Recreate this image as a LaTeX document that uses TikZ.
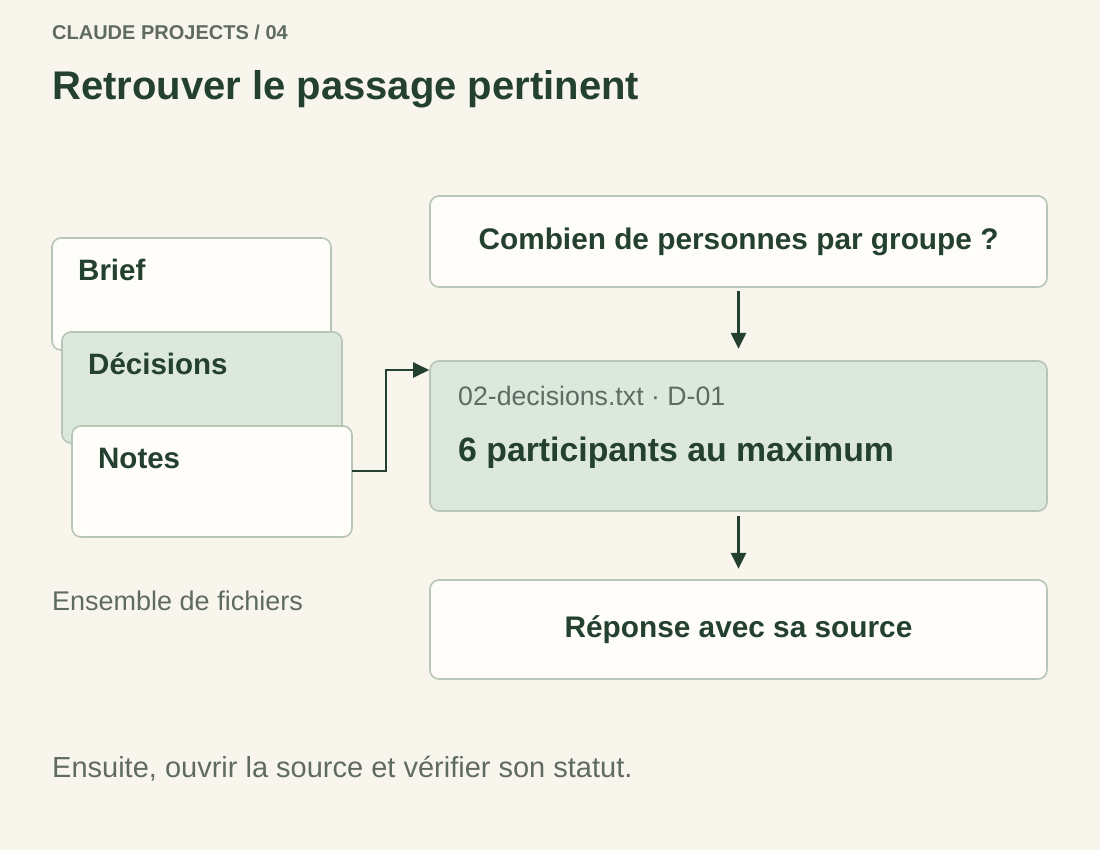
\documentclass[tikz,border=0pt]{standalone}
\usepackage{fontspec}
\setmainfont{Liberation Sans}
\usetikzlibrary{arrows.meta,positioning}
\definecolor{bgc}{HTML}{F8F6EC}
\definecolor{ink}{HTML}{24402F}
\definecolor{edge}{HTML}{B7C6B6}
\definecolor{leaf}{HTML}{DDE8DD}
\definecolor{paper}{HTML}{FEFDF9}
\definecolor{mute}{HTML}{5F6B62}
\tikzset{
  card/.style={draw=edge,line width=1.6pt,rounded corners=9pt},
  lbl/.style={anchor=base west,inner sep=0pt,text=ink,font=\fontsize{29.5}{34}\selectfont\bfseries},
  flow/.style={draw=ink,line width=2.6pt,-{Triangle[length=16pt,width=15pt]}}
}
\begin{document}
\begin{tikzpicture}[x=1pt,y=-1pt]
  \fill[bgc] (0,0) rectangle (1100,850);
  \useasboundingbox (0,0) rectangle (1100,850);
  % header
  \node[anchor=base west,inner sep=0pt,text=mute,font=\fontsize{20}{23}\selectfont\bfseries] (kicker) at (52,40) {CLAUDE PROJECTS / 04};
  \node[anchor=base west,inner sep=0pt,text=ink,font=\fontsize{40}{45}\selectfont\bfseries] (title) at (52,100) {Retrouver le passage pertinent};
  % file stack
  \draw[card,fill=paper] (52,238) rectangle (331,350);
  \node[lbl] (brief) at (78,280) {Brief};
  \draw[card,fill=leaf] (62,332) rectangle (342,443);
  \node[lbl] (decisions) at (88,374) {Décisions};
  \draw[card,fill=paper] (72,426) rectangle (352,537);
  \node[lbl] (notes) at (98,468) {Notes};
  \coordinate (notesout) at (352,471);
  \node[anchor=base west,inner sep=0pt,text=mute,font=\fontsize{27}{31}\selectfont] (setlbl) at (52,610) {Ensemble de fichiers};
  % flow
  \node[card,fill=paper,minimum width=617pt,minimum height=91pt,text=ink,font=\fontsize{29.8}{34}\selectfont\bfseries] (question) at (738.5,241.5) {Combien de personnes par groupe ?};
  \node[card,fill=leaf,minimum width=617pt,minimum height=150pt] (match) at (738.5,436) {};
  \node[anchor=base west,inner sep=0pt,text=mute,font=\fontsize{26.7}{31}\selectfont] (source) at (458,405) {02-decisions.txt · D-01};
  \node[anchor=base west,inner sep=0pt,text=ink,font=\fontsize{33.8}{38}\selectfont\bfseries] (fact) at (458,461) {6 participants au maximum};
  \node[card,fill=paper,minimum width=617pt,minimum height=99pt,text=ink,font=\fontsize{29.8}{34}\selectfont\bfseries] (answer) at (738.5,629.5) {Réponse avec sa source};
  \draw[flow] (question.south) ++(0,3) -- ++(0,58);
  \draw[flow] (match.south) ++(0,4) -- ++(0,53);
  \draw[flow,line width=2.4pt] (notesout) -- (386,471) -- (386,370) -- (match.west |- 0,370);
  % footer
  \node[anchor=base west,inner sep=0pt,text=mute,font=\fontsize{29}{34}\selectfont] (footer) at (52,777) {Ensuite, ouvrir la source et vérifier son statut.};
\end{tikzpicture}
\end{document}
